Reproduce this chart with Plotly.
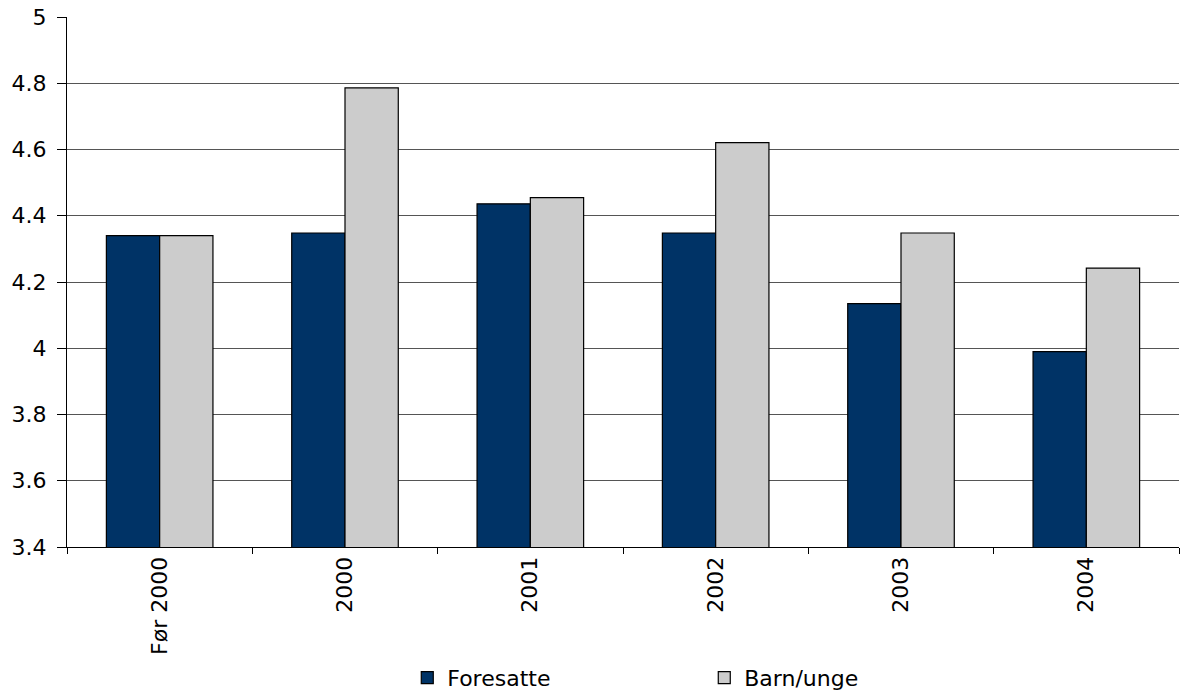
import plotly.graph_objects as go

categories = ["Før 2000", "2000", "2001", "2002", "2003", "2004"]
foresatte = [4.34, 4.348, 4.436, 4.348, 4.135, 3.99]
barn_unge = [4.34, 4.786, 4.455, 4.621, 4.348, 4.242]
y_ticks = [3.4, 3.6, 3.8, 4, 4.2, 4.4, 4.6, 4.8, 5]
y_ticktext = ["3.4", "3.6", "3.8", "4", "4.2", "4.4", "4.6", "4.8", "5"]

FONT = "DejaVu Sans"
FS = 22

fig = go.Figure()
fig.add_trace(go.Bar(x=categories, y=foresatte, name="Foresatte",
                     marker=dict(color="#003366", line=dict(color="#000000", width=1.2))))
fig.add_trace(go.Bar(x=categories, y=barn_unge, name="Barn/unge",
                     marker=dict(color="#CCCCCC", line=dict(color="#000000", width=1.2))))

fig.update_layout(
    width=1180, height=690,
    margin=dict(l=67, r=1, t=17, b=143, autoexpand=False),
    paper_bgcolor="white", plot_bgcolor="white",
    barmode="group", bargap=0.425, bargroupgap=0,
    font=dict(family=FONT, size=FS, color="#000000"),
    legend=dict(orientation="h", x=0.306, xanchor="left", y=-0.247, yanchor="middle",
                entrywidth=252, entrywidthmode="pixels", itemwidth=30,
                font=dict(family=FONT, size=FS), bgcolor="rgba(0,0,0,0)"),
    showlegend=True,
)
fig.update_yaxes(range=[3.4, 5], tickvals=y_ticks, ticktext=y_ticktext,
                 showgrid=True, gridcolor="#555555", gridwidth=1,
                 showline=True, linecolor="#000000", linewidth=1,
                 ticks="outside", ticklen=9, tickcolor="#000000", ticklabelstandoff=6,
                 ticklabeloverflow="allow",
                 zeroline=False, tickfont=dict(family=FONT, size=FS), automargin=False)
fig.update_xaxes(showline=True, linecolor="#000000", linewidth=1,
                 ticks="outside", tickson="boundaries", ticklen=6, tickcolor="#000000",
                 tickangle=-90, tickfont=dict(family=FONT, size=FS),
                 ticklabeloverflow="allow",
                 showgrid=False, automargin=False)

fig.write_html("out.html",
               config={"displayModeBar": False},
               post_script="document.body.style.margin='0';document.body.style.overflow='hidden';")
